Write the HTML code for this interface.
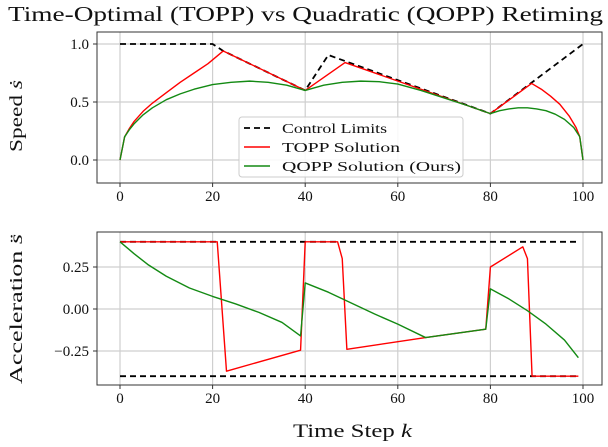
<!DOCTYPE html>
<html><head><meta charset="utf-8"><style>
body{margin:0;background:#fff;width:608px;height:442px;overflow:hidden}
svg text{font-family:"Liberation Serif","DejaVu Serif",serif;fill:#111}
</style></head><body>
<svg id="c" width="608" height="442" xmlns="http://www.w3.org/2000/svg">
<text x="8" y="21" font-size="21" textLength="595" lengthAdjust="spacingAndGlyphs">Time-Optimal (TOPP) vs Quadratic (QOPP) Retiming</text>
<text transform="translate(22,152) rotate(-90)" font-size="18" textLength="72" lengthAdjust="spacingAndGlyphs">Speed <tspan font-style="italic">ṡ</tspan></text>
<text transform="translate(22,384) rotate(-90)" font-size="18" textLength="150" lengthAdjust="spacingAndGlyphs">Acceleration <tspan font-style="italic">s̈</tspan></text>
<text x="293" y="437" font-size="19" textLength="119" lengthAdjust="spacingAndGlyphs">Time Step <tspan font-style="italic">k</tspan></text>
</svg>
<script>
const xTicks=[0,20,40,60,80,100];
const speedTicks=[0.0,0.5,1.0];
const speedTickLabels=["0.0","0.5","1.0"];
const accTicks=[-0.25,0,0.25];
const accTickLabels=["−0.25","0.00","0.25"];
const speedLimitK=[0,20,22.3,40,45,80,100];
const speedLimitV=[1,1,0.94,0.6,0.905,0.4,1];
const toppSpeedK=[0,1,2,3,5,7,10,13,16,19,22.3,40,48.6,80,88.9,91,93,95,97,98.5,99.3,100];
const toppSpeedV=[0,0.2,0.27,0.33,0.42,0.49,0.58,0.67,0.75,0.83,0.94,0.6,0.84,0.4,0.66,0.61,0.55,0.48,0.38,0.28,0.2,0];
const qoppSpeedK=[0,1,2,3,5,7,10,13,16,20,24,28,32,36,40,44,48,52,56,60,65,70,75,80,82,84,86,88,90,92,94,96,98,99.3,100];
const qoppSpeedV=[0,0.2,0.26,0.31,0.39,0.45,0.52,0.57,0.61,0.65,0.67,0.68,0.67,0.645,0.6,0.645,0.67,0.68,0.675,0.655,0.6,0.535,0.47,0.4,0.425,0.44,0.45,0.45,0.44,0.425,0.395,0.35,0.28,0.2,0];
const accUpperK=[0,99];const accUpperV=[0.4,0.4];
const accLowerK=[0,99];const accLowerV=[-0.4,-0.4];
const toppAccK=[0,21,23,39,40,47,48,49,66,79,80,87,88,89,99];
const toppAccV=[0.4,0.4,-0.37,-0.245,0.4,0.4,0.3,-0.24,-0.17,-0.12,0.25,0.37,0.3,-0.4,-0.4];
const qoppAccK=[0,3,6,10,15,20,25,30,35,39,40,45,50,55,60,66,79,80,84,88,92,96,99];
const qoppAccV=[0.4,0.33,0.265,0.195,0.125,0.075,0.03,-0.02,-0.08,-0.16,0.155,0.1,0.035,-0.03,-0.09,-0.17,-0.12,0.12,0.06,-0.01,-0.09,-0.185,-0.29];

const NS="http://www.w3.org/2000/svg";
const svg=document.getElementById('c');
function mk(t,a){const e=document.createElementNS(NS,t);for(const k in a)e.setAttribute(k,a[k]);svg.appendChild(e);return e;}
const L=97,R=602;
const xs=k=>120+k*4.63;
function panel(name,top,bot,ys,yt,ytl){
  const bg=mk('rect',{x:L,y:top,width:R-L,height:bot-top,fill:'#fff',stroke:'none'});
  
  
  xTicks.forEach(k=>{
    const g=mk('line',{x1:xs(k),x2:xs(k),y1:top,y2:bot,stroke:'#cfcfcf','stroke-width':1.2});
    
    
    mk('line',{x1:xs(k),x2:xs(k),y1:bot,y2:bot+4,stroke:'#333'});
    const t=mk('text',{x:xs(k),y:bot+18,'text-anchor':'middle','font-size':15});
    t.textContent=k;
    
    
  });
  yt.forEach((v,i)=>{
    const g=mk('line',{x1:L,x2:R,y1:ys(v),y2:ys(v),stroke:'#cfcfcf','stroke-width':1.2});
    
    
    mk('line',{x1:L-4,x2:L,y1:ys(v),y2:ys(v),stroke:'#333'});
    const t=mk('text',{x:L-8,y:ys(v)+5,'text-anchor':'end','font-size':15});
    t.textContent=ytl[i];
    
    
  });
}
function line(name,K,V,ys,color,dash,w){
  const p=mk('polyline',{points:K.map((k,i)=>xs(k)+','+ys(V[i])).join(' '),fill:'none',stroke:color,'stroke-width':w,'stroke-dasharray':dash||'none','stroke-linejoin':'round'});
  
  
}
const ys1=v=>160-v*116;
const ys2=v=>309-v*168;
panel('speed',32,183,ys1,speedTicks,speedTickLabels);
line('speed-control-limits',speedLimitK,speedLimitV,ys1,'#000','6,4',1.8);
line('topp-speed-line',toppSpeedK,toppSpeedV,ys1,'#ff0000','',1.4);
line('qopp-speed-line',qoppSpeedK,qoppSpeedV,ys1,'#138a13','',1.4);
panel('acceleration',232,385,ys2,accTicks,accTickLabels);
line('acc-upper-limit',accUpperK,accUpperV,ys2,'#000','6,4',1.8);
line('acc-lower-limit',accLowerK,accLowerV,ys2,'#000','6,4',1.8);
line('topp-acceleration-line',toppAccK,toppAccV,ys2,'#ff0000','',1.4);
line('qopp-acceleration-line',qoppAccK,qoppAccV,ys2,'#138a13','',1.4);
[[32,183],[232,385]].forEach(([t,b],i)=>{
  const f=mk('rect',{x:L,y:t,width:R-L,height:b-t,fill:'none',stroke:'#333','stroke-width':1});
  
  
});
const lg=mk('rect',{x:239,y:117,width:224,height:60,rx:3,fill:'#fff','fill-opacity':0.85,stroke:'#ccc'});


const items=[['Control Limits','#000','6,4','legend-entry-control-limits',105],['TOPP Solution','#ff0000','','legend-entry-topp',118],['QOPP Solution (Ours)','#138a13','','legend-entry-qopp',179]];
items.forEach((it,i)=>{
  const y=128+i*19;
  mk('line',{x1:244,x2:270,y1:y,y2:y,stroke:it[1],'stroke-width':it[2]?1.8:1.4,'stroke-dasharray':it[2]||'none'});
  const t=mk('text',{x:282,y:y+5,'font-size':14,textLength:it[4],lengthAdjust:'spacingAndGlyphs'});
  t.textContent=it[0];
  
  
});
</script>
</body></html>
